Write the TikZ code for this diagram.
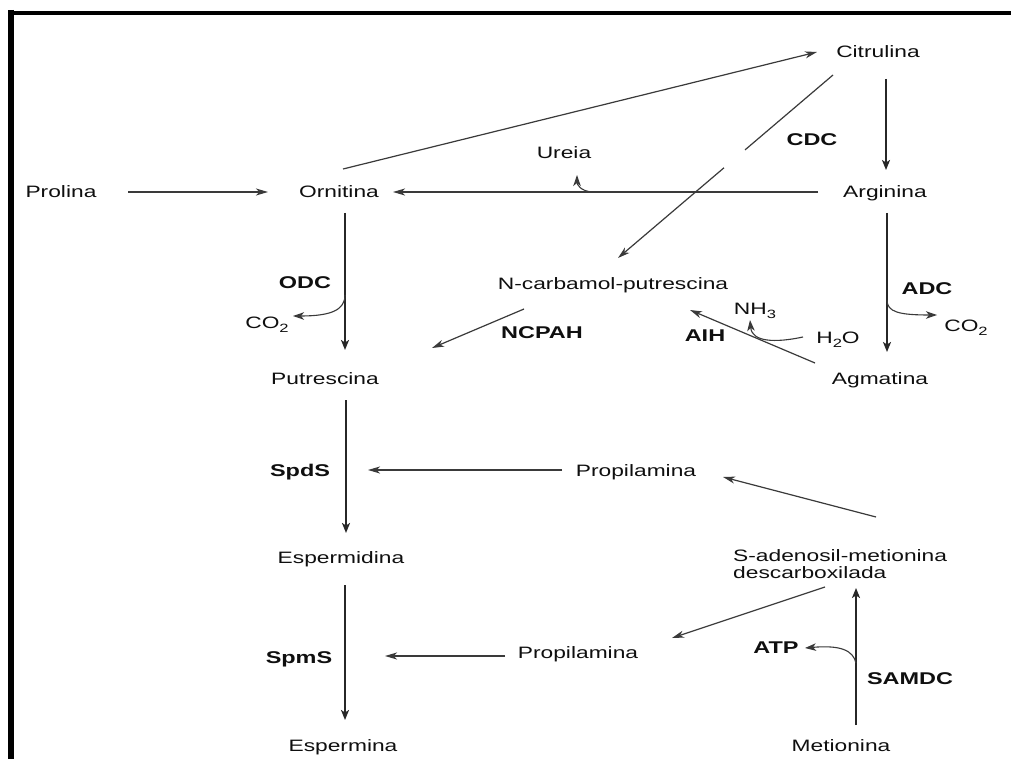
\documentclass[tikz,border=0pt]{standalone}
\usepackage{fontspec}
\setmainfont{Liberation Sans}[FakeStretch=1.38]
\usetikzlibrary{arrows.meta,calc}
\newcommand\mysub[1]{\raisebox{-4pt}{\fontsize{12}{12}\selectfont #1}}
\definecolor{ink}{HTML}{0F0F0F}
\definecolor{lineg}{HTML}{3A3A3A}
\begin{document}
\begin{tikzpicture}[x=1pt,y=-1pt,
  lbl/.style={font=\fontsize{16.5}{18}\selectfont, text=ink, inner sep=0pt, anchor=base},
  enz/.style={lbl, font=\fontsize{17}{18}\selectfont\bfseries},
  mainarr/.style={draw=ink!90, line width=1.8pt, -{Stealth[length=10pt,width=8pt,inset=2.5pt]}},
  thinarr/.style={draw=lineg, line width=1.2pt, -{Stealth[length=12pt,width=7pt,inset=3.5pt]}},
  thinline/.style={draw=lineg, line width=1.2pt},
  branch/.style={draw=lineg, line width=1.1pt, -{Stealth[length=11pt,width=7.5pt,inset=3pt]}}
]
\fill[white] (0,0) rectangle (1011,759);
\useasboundingbox (0,0) rectangle (1011,759);
\draw[line width=3.5pt, black] (8,13) -- (1011,13);
\draw[line width=6.5pt, black] (11,10) -- (11,759);

% metabolites
\node[lbl] (cit) at (878,58) {Citrulina};
\node[lbl] (pro) at (61,198) {Prolina};
\node[lbl] (orn) at (339,198) {Ornitina};
\node[lbl] (arg) at (885,198) {Arginina};
\node[lbl] (ure) at (564,159) {Ureia};
\node[lbl] (ncp) at (613,289) {N-carbamol-putrescina};
\node[lbl] (co2a) at (267,328) {CO\mysub{2}};
\node[lbl] (nh3) at (755,314) {NH\mysub{3}};
\node[lbl] (h2o) at (838,343) {H\mysub{2}O};
\node[lbl] (co2b) at (966,331) {CO\mysub{2}};
\node[lbl] (put) at (325,384) {Putrescina};
\node[lbl] (agm) at (880,384) {Agmatina};
\node[lbl] (prop1) at (636,476) {Propilamina};
\node[lbl] (espd) at (341,563) {Espermidina};
\node[lbl, anchor=base west] (sam1) at (733,561) {S-adenosil-metionina};
\node[lbl, anchor=base west] (sam2) at (733,578) {descarboxilada};
\node[lbl] (prop2) at (578,658) {Propilamina};
\node[lbl] (esp) at (343,751) {Espermina};
\node[lbl] (met) at (841,751) {Metionina};

% enzymes
\node[enz] (cdc) at (812,146) {CDC};
\node[enz] (odc) at (305,288) {ODC};
\node[enz] (ncpah) at (542,338) {NCPAH};
\node[enz] (aih) at (705,341) {AIH};
\node[enz] (adc) at (927,294) {ADC};
\node[enz] (spds) at (300,476) {SpdS};
\node[enz] (spms) at (299,663) {SpmS};
\node[enz] (atp) at (776,653) {ATP};
\node[enz] (samdc) at (910,684) {SAMDC};

% connectors
\draw[thinarr] ($(pro.base)+(67,-6)$) -- ($(orn.base)+(-71,-6)$);
\draw[thinarr] ($(orn.base)+(4,-29)$) -- ($(cit.base)+(-61,-6)$);
\draw[mainarr] ($(cit.base)+(8,21)$) -- ($(arg.base)+(1,-28)$);
\draw[thinarr] ($(arg.base)+(-67,-6)$) -- ($(orn.base)+(54,-6)$);
\draw[branch] ($(ure.base)+(28,33)$) .. controls ($(ure.base)+(16,32)$) and ($(ure.base)+(13,25)$) .. ($(ure.base)+(13,16)$);

\coordinate (cdcS) at ($(cit.base)+(-45,17)$);
\coordinate (cdcE) at ($(ncp.base)+(5,-31)$);
\draw[thinline] (cdcS) -- ($(cdcS)!0.409!(cdcE)$);
\draw[thinarr] ($(cdcS)!0.507!(cdcE)$) -- (cdcE);

\draw[mainarr] ($(orn.base)+(6,15)$) -- ($(put.base)+(20,-34)$);
\draw[branch] ($(orn.base)+(6,97)$) .. controls ($(orn.base)+(6,112)$) and ($(orn.base)+(-8,118)$) .. ($(co2a.base)+(26,-12)$);

\draw[thinarr] ($(ncp.base)+(-89,20)$) -- ($(put.base)+(107,-36)$);

\draw[mainarr] ($(arg.base)+(2,15)$) -- ($(agm.base)+(7,-32)$);
\draw[branch] ($(arg.base)+(2,102)$) .. controls ($(arg.base)+(2,114)$) and ($(arg.base)+(14,117)$) .. ($(co2b.base)+(-29,-16)$);

\draw[thinarr] ($(agm.base)+(-65,-21)$) -- ($(ncp.base)+(77,21)$);
\draw[branch] ($(h2o.base)+(-35,-6)$) .. controls ($(h2o.base)+(-63,0)$) and ($(nh3.base)+(-3,28)$) .. ($(nh3.base)+(-5,6)$);

\draw[mainarr] ($(put.base)+(21,16)$) -- ($(espd.base)+(5,-30)$);
\draw[thinarr] ($(prop1.base)+(-74,-6)$) -- ($(spds.base)+(68,-6)$);
\draw[thinarr] ($(sam1.base west)+(143,-44)$) -- ($(prop1.base)+(87,1)$);
\draw[thinarr] ($(sam2.base west)+(92,9)$) -- ($(prop2.base)+(94,-20)$);
\draw[thinarr] ($(prop2.base)+(-73,-2)$) -- ($(spms.base)+(86,-7)$);
\draw[mainarr] ($(espd.base)+(4,22)$) -- ($(esp.base)+(2,-31)$);
\draw[mainarr] ($(met.base)+(15,-26)$) -- ($(sam2.base west)+(123,10)$);
\draw[branch] ($(met.base)+(15,-88)$) .. controls ($(met.base)+(12,-101)$) and ($(met.base)+(-1,-106)$) .. ($(atp.base)+(29,-5)$);
\end{tikzpicture}
\end{document}
